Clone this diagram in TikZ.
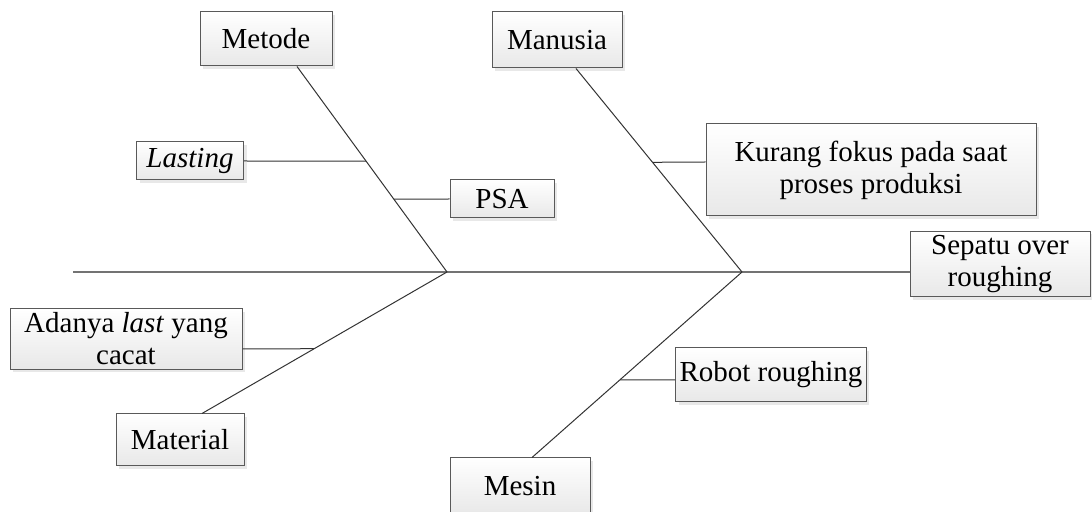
\documentclass[tikz,border=0pt]{standalone}
\usepackage{fontspec}
\setmainfont{Liberation Serif}
\usetikzlibrary{shadows,calc}

\tikzset{
  causebox/.style={draw=black!65, line width=0.5pt, top color=white, bottom color=black!9,
    drop shadow={opacity=0.18, shadow xshift=1.5pt, shadow yshift=-1.5pt},
    align=center, inner sep=2pt, font=\fontsize{14.5}{16}\selectfont},
  bone/.style={draw=black!80, line width=0.5pt},
  spine/.style={draw=black!55, line width=1pt},
}

\begin{document}
\begin{tikzpicture}[x=0.5pt,y=-0.5pt]
  \useasboundingbox (0,0) rectangle (1092,512);

  % cause boxes
  \node[causebox, minimum width=66pt, minimum height=27pt] (metode) at (266,39) {Metode};
  \node[causebox, minimum width=65pt, minimum height=28pt] (manusia) at (557,40) {Manusia};
  \node[causebox, minimum width=64pt, minimum height=26pt] (material) at (180,440) {Material};
  \node[causebox, minimum width=70pt, minimum height=28pt] (mesin) at (520,486) {Mesin};
  % effect
  \node[causebox, minimum width=90pt, minimum height=28pt] (sepatu) at (1000,264) {Sepatu over\\roughing};
  % sub causes
  \node[causebox, minimum width=53.5pt, minimum height=19pt] (lasting) at (190,161) {\textit{Lasting}};
  \node[causebox, minimum width=52pt, minimum height=19pt] (psa) at (502,199) {PSA};
  \node[causebox, minimum width=165pt, minimum height=46pt] (kurang) at (871,170) {Kurang fokus pada saat\\proses produksi};
  \node[causebox, minimum width=116pt, minimum height=29pt] (adanya) at (126,339) {Adanya \textit{last} yang\\cacat};
  \node[causebox, minimum width=91pt, minimum height=27pt] (robot) at (771,375) {Robot roughing};

  % spine
  \coordinate (tail) at (73,272);
  \coordinate (j1) at (447,272);
  \coordinate (j2) at (742,272);
  \draw[spine] (tail) -- (tail -| sepatu.west);

  % main bones
  \draw[bone] ($(metode.south)+(31,0)$) -- (j1)
    coordinate[pos=0.461] (b1) coordinate[pos=0.646] (b2);
  \draw[bone] ($(manusia.south)+(19,0)$) -- (j2)
    coordinate[pos=0.461] (b3);
  \draw[bone] ($(material.north)+(22,0)$) -- (j1)
    coordinate[pos=0.458] (b4);
  \draw[bone] ($(mesin.north)+(12,0)$) -- (j2)
    coordinate[pos=0.419] (b5);

  % branches
  \draw[bone] (lasting.east) -- (b1);
  \draw[bone] (b2) -- (psa.west);
  \draw[bone] (b3) -- ($(kurang.west)+(0,-8)$);
  \draw[bone] ($(adanya.east)+(0,10)$) -- (b4);
  \draw[bone] (b5) -- ($(robot.west)+(0,5)$);
\end{tikzpicture}
\end{document}
